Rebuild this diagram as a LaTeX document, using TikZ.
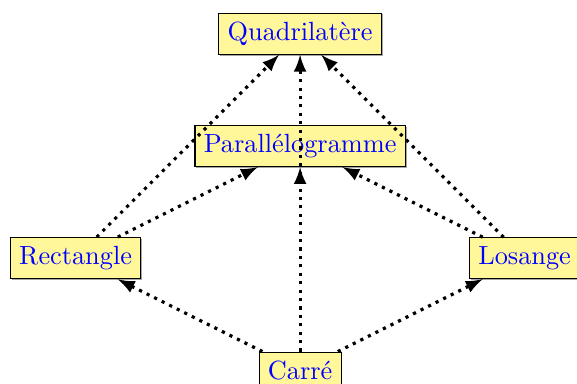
\documentclass[tikz,border=0pt]{standalone}
\usetikzlibrary{shadows}

\begin{document}
\begin{tikzpicture}
    \definecolor{boxFill}{HTML}{FFF799}
    \definecolor{textColour}{HTML}{0000FF}

    \tikzset{
        quad/.style={draw=black, fill=boxFill, text=textColour, thin,
            drop shadow={shadow xshift=0.5pt, shadow yshift=-0.5pt, fill=gray!70, opacity=1}},
        implies/.style={very thick, dotted, -latex}
    }

    % Fix the margins
    \useasboundingbox (-4.01,-0.17) rectangle (3.70,4.95);

    % Quadrilateral family
    \node[quad] (carre) at (0,0) {Carré};
    \node[quad] (rectangle) at (-3,1.5) {Rectangle};
    \node[quad] (losange) at (3,1.5) {Losange};
    \node[quad] (para) at (0,3) {Parallélogramme};
    \node[quad] (quadri) at (0,4.5) {Quadrilatère};

    % Implications from the square
    \draw[implies] (carre) -- (rectangle);
    \draw[implies] (carre) -- (losange);
    \draw[implies] (carre) -- (para);
    \draw[implies] (carre) -- (quadri);

    % Implications from rectangle and rhombus
    \draw[implies] (rectangle) -- (para);
    \draw[implies] (rectangle) -- (quadri);
    \draw[implies] (losange) -- (para);
    \draw[implies] (losange) -- (quadri);

\end{tikzpicture}
\end{document}
